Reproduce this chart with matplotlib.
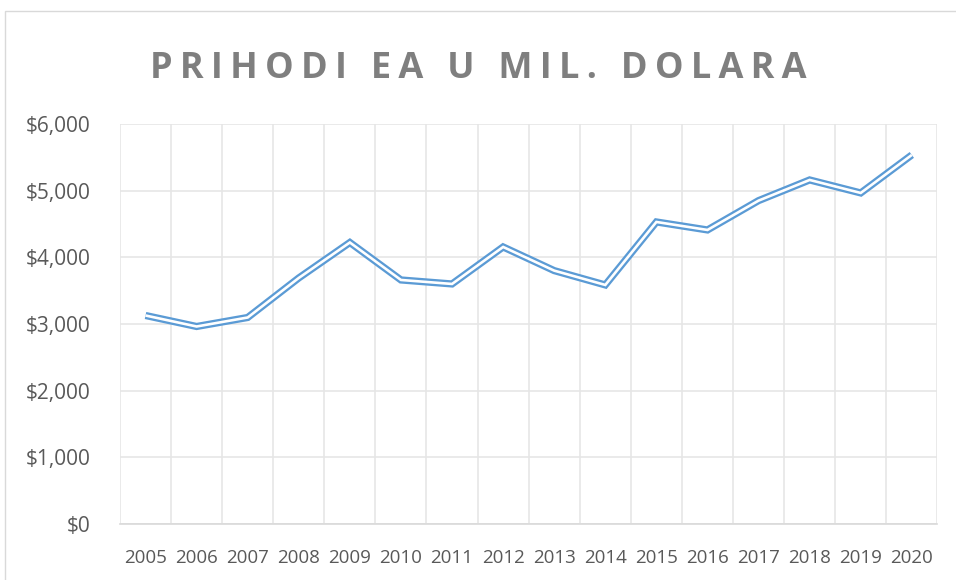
import matplotlib.pyplot as plt
from matplotlib.patches import Rectangle
from matplotlib.ticker import FuncFormatter, MultipleLocator

# podaci procijenjeni sa slike
godine = ['2005', '2006', '2007', '2008', '2009', '2010', '2011', '2012',
          '2013', '2014', '2015', '2016', '2017', '2018', '2019', '2020']
prihodi = [3127, 2962, 3097, 3690, 4222, 3660, 3600, 4155,
           3800, 3585, 4530, 4410, 4850, 5160, 4965, 5535]

naslov = 'PRIHODI EA U MIL. DOLARA'
plava = '#5b9bd5'
siva_tekst = '#595959'
siva_mreza = '#e6e6e6'

plt.rcParams['font.family'] = ['Open Sans', 'DejaVu Sans']

fig = plt.figure(figsize=(9.56, 5.8), dpi=100)
ax = fig.add_axes([0.1255, 0.0966, 0.855, 0.6897])

# okvir grafikona
fig.patches.append(Rectangle((5 / 956, -0.1), 1.2, 1 - 11 / 580 + 0.1,
                             transform=fig.transFigure, fill=False,
                             edgecolor='#d9d9d9', linewidth=1.0))

x = list(range(len(godine)))
# dvostruka linija: debela plava pa tanka bijela preko
ax.plot(x, prihodi, color=plava, linewidth=5.2, solid_joinstyle='miter',
        solid_capstyle='butt', zorder=3)
ax.plot(x, prihodi, color='white', linewidth=1.9, solid_joinstyle='miter',
        solid_capstyle='butt', zorder=4)

ax.set_xlim(-0.5, len(godine) - 0.5)
ax.set_ylim(0, 6000)
ax.set_xticks(x)
ax.set_xticklabels(godine)
ax.set_xticks([i - 0.5 for i in range(len(godine) + 1)], minor=True)
ax.yaxis.set_major_locator(MultipleLocator(1000))
ax.yaxis.set_major_formatter(FuncFormatter(lambda v, p: '${:,.0f}'.format(v)))

ax.grid(True, which='major', axis='y', color=siva_mreza, linewidth=1.2)
ax.grid(True, which='minor', axis='x', color=siva_mreza, linewidth=1.2)
ax.set_axisbelow(True)

for s in ['top', 'right', 'left']:
    ax.spines[s].set_visible(False)
ax.spines['bottom'].set_color('#d9d9d9')
ax.spines['bottom'].set_linewidth(1.2)

ax.tick_params(axis='both', which='both', length=0, colors=siva_tekst)
ax.tick_params(axis='x', labelsize=13.5, pad=18)
ax.tick_params(axis='y', labelsize=15, pad=21)

# razmak izmedju slova
naslov_razmak = '\u2009'.join(naslov)
fig.text(0.5, 1 - 78 / 580, naslov_razmak, ha='center', va='baseline',
         fontsize=26, fontweight='bold', color='#7f7f7f')

fig.savefig('out.png', dpi=100)
